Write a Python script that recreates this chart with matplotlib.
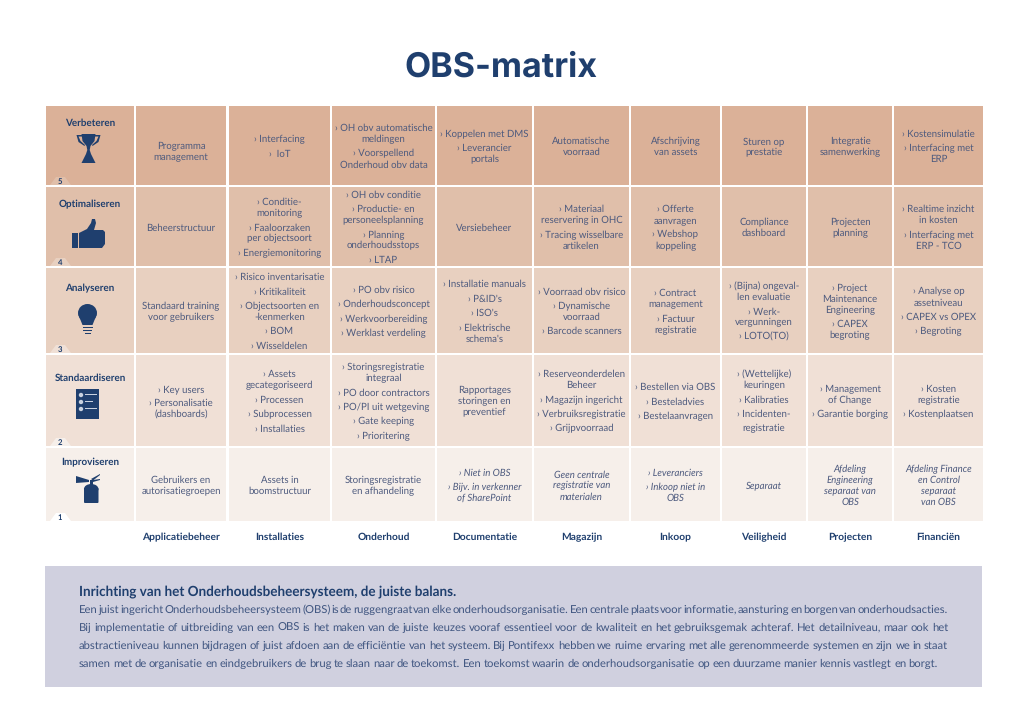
#!/usr/bin/env python3
# OBS-matrix: maturity levels against maintenance domains, with a text panel below.

import matplotlib
matplotlib.use("Agg")
import matplotlib.pyplot as plt
from matplotlib.patches import Polygon, Rectangle, Ellipse, FancyBboxPatch

plt.rcParams['font.family'] = ['Lato', 'DejaVu Sans']
plt.rcParams['text.hinting'] = 'no_hinting'  # keeps the justified words on one baseline

NAVY = "#1F3F6E"
CELL_TEXT = "#4D5A7E"
PANEL = "#D0D0DF"

TITLE = "OBS-matrix"
DOMAINS = ["Applicatiebeheer", "Installaties", "Onderhoud", "Documentatie",
           "Magazijn", "Inkoop", "Veiligheid", "Projecten", "Financiën"]
LEVELS = ["Verbeteren", "Optimaliseren", "Analyseren", "Standaardiseren", "Improviseren"]
LEVEL_NUMBERS = ["5", "4", "3", "2", "1"]
LEVEL_COLORS = ["#DBB198", "#E0BFAA", "#E8D0C0", "#F0E0D6", "#F6EFEA"]

# one cell = list of paragraphs, \n is a soft break inside a paragraph
ROW_VERBETEREN = [
    ["Programma\nmanagement"],
    ["› Interfacing", "›  IoT"],
    ["› OH obv automatische\nmeldingen", "› Voorspellend\nOnderhoud obv data"],
    ["› Koppelen met DMS", "› Leverancier\nportals"],
    ["Automatische\nvoorraad"],
    ["Afschrijving\nvan assets"],
    ["Sturen op\nprestatie"],
    ["Integratie\nsamenwerking"],
    ["› Kostensimulatie", "› Interfacing met\nERP"],
]
ROW_OPTIMALISEREN = [
    ["Beheerstructuur"],
    ["› Conditie-\nmonitoring", "› Faaloorzaken\nper objectsoort", "› Energiemonitoring"],
    ["› OH obv conditie", "› Productie- en\npersoneelsplanning",
     "› Planning\nonderhoudsstops", "› LTAP"],
    ["Versiebeheer"],
    ["› Materiaal\nreservering in OHC", "› Tracing wisselbare\nartikelen"],
    ["› Offerte\naanvragen", "› Webshop\nkoppeling"],
    ["Compliance\ndashboard"],
    ["Projecten\nplanning"],
    ["› Realtime inzicht\nin kosten", "› Interfacing met\nERP - TCO"],
]
ROW_ANALYSEREN = [
    ["Standaard training\nvoor gebruikers"],
    ["› Risico inventarisatie", "› Kritikaliteit", "› Objectsoorten en\n-kenmerken",
     "› BOM", "› Wisseldelen"],
    ["› PO obv risico", "› Onderhoudsconcept", "› Werkvoorbereiding", "› Werklast verdeling"],
    ["› Installatie manuals", "› P&ID's", "› ISO's", "› Elektrische\nschema's"],
    ["› Voorraad obv risico", "› Dynamische\nvoorraad", "› Barcode scanners"],
    ["› Contract\nmanagement", "› Factuur\nregistratie"],
    ["› (Bijna) ongeval-\nlen evaluatie", "› Werk-\nvergunningen", "› LOTO(TO)"],
    ["› Project\nMaintenance\nEngineering", "› CAPEX\nbegroting"],
    ["› Analyse op\nassetniveau", "› CAPEX vs OPEX", "› Begroting"],
]
ROW_STANDAARDISEREN = [
    ["› Key users", "› Personalisatie\n(dashboards)"],
    ["› Assets\ngecategoriseerd", "› Processen", "› Subprocessen", "› Installaties"],
    ["› Storingsregistratie\nintegraal", "› PO door contractors", "› PO/PI uit wetgeving",
     "› Gate keeping", "› Prioritering"],
    ["Rapportages\nstoringen en\npreventief"],
    ["› Reserveonderdelen\nBeheer", "› Magazijn ingericht", "› Verbruiksregistratie",
     "› Grijpvoorraad"],
    ["› Bestellen via OBS", "› Besteladvies", "› Bestelaanvragen"],
    ["› (Wettelijke)\nkeuringen", "› Kalibraties", "› Incidenten-", "registratie"],
    ["› Management\nof Change", "› Garantie borging"],
    ["› Kosten\nregistratie", "› Kostenplaatsen"],
]
ROW_IMPROVISEREN = [
    ["Gebruikers en\nautorisatiegroepen"],
    ["Assets in\nboomstructuur"],
    ["Storingsregistratie\nen afhandeling"],
    ["› Niet in OBS", "› Bijv. in verkenner\nof SharePoint"],
    ["Geen centrale\nregistratie van\nmaterialen"],
    ["› Leveranciers", "› Inkoop niet in\nOBS"],
    ["Separaat"],
    ["Afdeling\nEngineering\nseparaat van\nOBS"],
    ["Afdeling Finance\nen Control\nseparaat\nvan OBS"],
]
ROWS = [ROW_VERBETEREN, ROW_OPTIMALISEREN, ROW_ANALYSEREN, ROW_STANDAARDISEREN, ROW_IMPROVISEREN]
ITALIC_FROM_COL = 3  # bottom row is italic from Documentatie onward

PANEL_TITLE = "Inrichting van het Onderhoudsbeheersysteem, de juiste balans."
PANEL_LINES = [
    "Een juist ingericht Onderhoudsbeheersysteem (OBS) is de ruggengraat van elke onderhoudsorganisatie. Een centrale plaats voor informatie, aansturing en borgen van onderhoudsacties.",
    "Bij implementatie of uitbreiding van een OBS is het maken van de juiste keuzes vooraf essentieel voor de kwaliteit en het gebruiksgemak achteraf. Het detailniveau, maar ook het",
    "abstractieniveau kunnen bijdragen of juist afdoen aan de efficiëntie van het systeem. Bij Pontifexx hebben we ruime ervaring met alle gerenommeerde systemen en zijn we in staat",
    "samen met de organisatie en eindgebruikers de brug te slaan naar de toekomst. Een toekomst waarin de onderhoudsorganisatie op een duurzame manier kennis vastlegt en borgt.",
]

# layout, in reference pixels
COL_X = [(46, 134), (136, 226), (229, 330), (332, 435), (437, 532),
         (534, 629), (631, 720), (722, 806), (808, 892), (894, 983)]
ROW_Y = [(106, 185), (187, 266), (268, 353), (355, 446), (448, 521)]
LEVEL_Y = [123, 204, 288, 378, 462]
LINE_GAP = 11.0
PARA_GAP = 14.4
CELL_FS = 6.9
BASE_SHIFT = 3.0  # baseline sits this far under the middle of a line


def px_rect(ax, x0, y0, x1, y1, color):
    ax.add_patch(Rectangle((x0, y0), x1 - x0, y1 - y0, fc=color, ec='none'))


def poly(ax, pts, color=NAVY):
    ax.add_patch(Polygon(pts, closed=True, fc=color, ec='none'))


def draw_cell(ax, paras, x_mid, y_mid, italic=False):
    # stack the lines around the middle of the cell
    ys = []
    y = 0.0
    lines = []
    for p, para in enumerate(paras):
        for i, line in enumerate(para.split("\n")):
            if i > 0:
                y += LINE_GAP
            elif p > 0:
                y += PARA_GAP
            ys.append(y)
            lines.append(line)
    off = y_mid - y / 2.0
    for line, ly in zip(lines, ys):
        ax.text(x_mid, ly + off + BASE_SHIFT, line, ha='center', va='baseline',
                fontsize=CELL_FS, color=CELL_TEXT, style='italic' if italic else 'normal')


def trophy(ax, cx, top):
    poly(ax, [(cx - 7, top), (cx + 7, top), (cx + 6, top + 7), (cx + 2, top + 12),
              (cx + 1.2, top + 16), (cx + 2.5, top + 20), (cx + 7, top + 29),
              (cx - 7, top + 29), (cx - 2.5, top + 20), (cx - 1.2, top + 16),
              (cx - 2, top + 12), (cx - 6, top + 7)])
    poly(ax, [(cx - 12, top + 1), (cx - 6, top + 1), (cx - 6, top + 2.5), (cx - 10, top + 2.5),
              (cx - 8, top + 7), (cx - 3.5, top + 11), (cx - 4, top + 12), (cx - 10, top + 8)])
    poly(ax, [(cx + 12, top + 1), (cx + 6, top + 1), (cx + 6, top + 2.5), (cx + 10, top + 2.5),
              (cx + 8, top + 7), (cx + 3.5, top + 11), (cx + 4, top + 12), (cx + 10, top + 8)])


def thumb(ax, x0, top):
    px_rect(ax, x0, top + 14, x0 + 6, top + 29, NAVY)
    poly(ax, [(x0 + 7, top + 14), (x0 + 15, top + 10), (x0 + 19, top + 4), (x0 + 20, top),
              (x0 + 23, top), (x0 + 24, top + 4), (x0 + 22, top + 11), (x0 + 31, top + 11),
              (x0 + 33, top + 13), (x0 + 33, top + 25), (x0 + 30, top + 29), (x0 + 7, top + 29)])


def bulb(ax, cx, top):
    ax.add_patch(Ellipse((cx, top + 9), 19, 18, fc=NAVY, ec='none'))
    poly(ax, [(cx - 9, top + 11), (cx + 9, top + 11), (cx + 5, top + 21), (cx - 5, top + 21)])
    for dy, w in [(22.5, 5), (25.5, 4.5), (28.5, 3)]:
        px_rect(ax, cx - w, top + dy, cx + w, top + dy + 1.8, NAVY)


def checklist(ax, x0, top):
    px_rect(ax, x0, top, x0 + 23, top + 30, NAVY)
    for dy, w in [(6, 12), (13, 8), (20, 12)]:
        ax.add_patch(Ellipse((x0 + 5, top + dy), 4.4, 4.4, fc='#C9D2E0', ec='none'))
        px_rect(ax, x0 + 9, top + dy - 1.5, x0 + 9 + w, top + dy - 0.3, '#C9D2E0')


def extinguisher(ax, x0, top):
    ax.add_patch(FancyBboxPatch((x0 + 8, top + 14), 14.5, 15, fc=NAVY, ec='none',
                                boxstyle="round,pad=0,rounding_size=1.0"))
    ax.add_patch(Ellipse((x0 + 15.2, top + 15), 14.5, 10, fc=NAVY, ec='none'))
    px_rect(ax, x0 + 13.5, top + 6, x0 + 17, top + 11, NAVY)
    poly(ax, [(x0, top + 2), (x0 + 13, top + 6), (x0 + 13, top + 8), (x0, top + 9)])
    poly(ax, [(x0 + 15, top + 5), (x0 + 24, top), (x0 + 24, top + 1), (x0 + 17, top + 6.5)])
    poly(ax, [(x0 + 17, top + 6), (x0 + 24, top + 5), (x0 + 24, top + 6), (x0 + 17, top + 8)])


def justified_line(fig, ax, text, x0, x1, y):
    # lay the words out so the line runs from x0 to x1
    words = text.split(" ")
    rend = fig.canvas.get_renderer()
    arts = [ax.text(0, y, w, ha='left', va='baseline', fontsize=8.1, color="#3F5580")
            for w in words]
    widths = [a.get_window_extent(rend).width for a in arts]
    gap = (x1 - x0 - sum(widths)) / (len(words) - 1)
    x = x0
    for a, w in zip(arts, widths):
        a.set_x(x)
        x += w + gap


def main():
    fig = plt.figure(figsize=(10.24, 7.24), dpi=100)
    ax = fig.add_axes([0, 0, 1, 1])
    ax.set_xlim(0, 1024)
    ax.set_ylim(724, 0)
    ax.axis('off')

    ax.text(500.5, 76.5, TITLE, ha='center', va='baseline', fontsize=24.5, weight='bold',
            color=NAVY, family=['Inter', 'Lato'])

    for r, (y0, y1) in enumerate(ROW_Y):
        color = LEVEL_COLORS[r]
        y_mid = (y0 + y1) / 2.0 + 1
        for c, (x0, x1) in enumerate(COL_X):
            px_rect(ax, x0, y0, x1, y1, color)
            if c == 0:
                continue
            dy = 5.5 if (r == 0 and c == 1) else 0
            draw_cell(ax, ROWS[r][c - 1], (x0 + x1) / 2.0, y_mid + dy,
                      italic=(r == 4 and c - 1 >= ITALIC_FROM_COL))

        # level name and the little number tab
        ax.text(90, LEVEL_Y[r], LEVELS[r], ha='center', va='center', fontsize=7.1,
                weight='bold', color=NAVY)
        tab = LEVEL_COLORS[r + 1] if r < 4 else "white"
        poly(ax, [(50, y1), (56, y1 - 8), (65, y1 - 8), (71, y1)], tab)
        ax.text(60, y1 - 3, LEVEL_NUMBERS[r], ha='center', va='center', fontsize=5.6,
                weight='bold', color=NAVY)

    trophy(ax, 88.5, 134)
    thumb(ax, 72, 219)
    bulb(ax, 87.5, 304)
    checklist(ax, 76, 389)
    extinguisher(ax, 76, 474)

    for name, (x0, x1) in zip(DOMAINS, COL_X[1:]):
        ax.text((x0 + x1) / 2.0, 537, name, ha='center', va='center', fontsize=7.4,
                weight='bold', color=NAVY)

    px_rect(ax, 45, 566, 982, 687, PANEL)
    ax.text(79, 591.5, PANEL_TITLE, ha='left', va='center', fontsize=9.75, weight='bold',
            color=NAVY)
    ends = [948, 948, 948, 938]
    for line, y, x1 in zip(PANEL_LINES, [613, 631, 649, 667], ends):
        justified_line(fig, ax, line, 79, x1, y)

    fig.savefig("out.png", dpi=100)
    plt.close(fig)


if __name__ == "__main__":
    main()
